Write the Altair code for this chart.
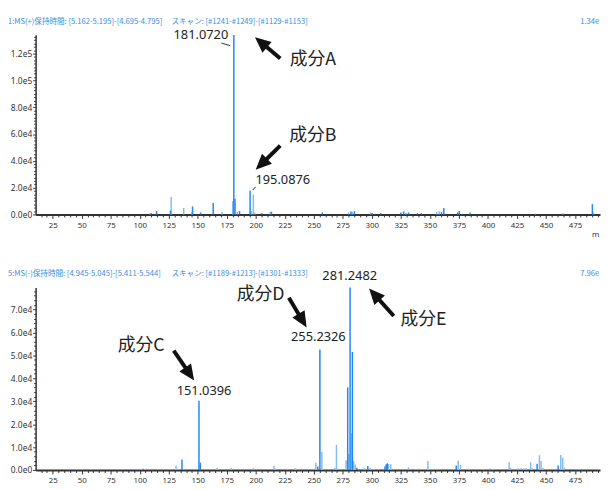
import altair as alt
import pandas as pd

# ---------------- data ----------------
X_DOMAIN = [10.3, 496.6]

# MS(+) spectrum (top)
top_mz = [108.6, 109.7, 114.5, 126.5, 127.1, 137.9, 144.9, 145.5, 152.4, 163.3, 171.0,
          180.1, 181.072, 182.1, 184.1, 186.0, 195.0876, 196.1, 197.9, 199.1, 205.0,
          212.5, 213.5, 257.3, 280.0, 282.0, 283.2, 285.0, 299.0, 300.2, 307.6,
          325.0, 327.4, 329.4, 331.6, 339.3, 342.7, 355.8, 358.0, 360.0, 362.0,
          373.9, 375.3, 384.6, 441.0, 464.4, 490.0, 491.0]
top_int = [800, 1000, 2500, 2900, 13000, 4800, 2000, 6000, 1500, 8600, 2000,
           10000, 134000, 11700, 2000, 2500, 17800, 2500, 14900, 1500, 1000,
           2000, 2000, 1500, 1500, 2200, 2000, 2500, 1500, 1000, 1000,
           1500, 2300, 1200, 1500, 1000, 1000, 2000, 2400, 2000, 4800,
           1500, 2500, 1500, 600, 1000, 7700, 1500]
top_grp = ["L", "D", "D", "D", "L", "L", "L", "D", "D", "D", "L",
           "L", "D", "D", "L", "D", "D", "L", "L", "L", "D",
           "L", "D", "D", "L", "D", "L", "D", "L", "D", "D",
           "D", "D", "L", "D", "D", "D", "L", "L", "D", "D",
           "D", "D", "D", "L", "L", "D", "L"]

# MS(-) spectrum (bottom)
bot_mz = [101.5, 103.0, 104.4, 131.3, 136.4, 151.0396, 152.2, 166.7, 178.8, 197.9,
          215.7, 217.0, 227.6, 233.8, 236.0, 251.7, 253.4, 255.2326, 256.9, 268.1,
          269.5, 277.8, 279.2, 280.2, 281.2482, 282.25, 283.26, 284.3, 285.7, 287.0,
          293.6, 296.5, 298.5, 301.8, 311.3, 312.4, 313.3, 314.4, 316.3, 331.6,
          340.4, 348.3, 356.5, 372.7, 374.4, 376.4, 383.5, 396.2, 401.9, 404.7,
          418.3, 419.5, 426.0, 428.5, 431.0, 433.0, 436.8, 438.0, 442.4, 444.4,
          445.8, 447.5, 460.5, 462.8, 464.5, 466.0, 478.4, 495.0]
bot_int = [500, 600, 500, 2000, 4600, 30200, 3200, 1000, 1000, 800,
           1900, 600, 600, 800, 400, 3200, 1500, 52500, 8000, 1000,
           10900, 4300, 36000, 7000, 79600, 16000, 51500, 4000, 2400, 1000,
           1000, 1700, 1000, 400, 1500, 2500, 2900, 2600, 2500, 1200,
           500, 3900, 500, 2000, 4000, 2200, 500, 500, 800, 500,
           3400, 1000, 800, 800, 700, 800, 3400, 1000, 2700, 6500,
           3900, 1000, 2000, 6500, 5300, 1000, 400, 400]
bot_grp = ["L", "D", "L", "L", "D", "D", "D", "L", "L", "L",
           "L", "L", "L", "L", "L", "L", "D", "D", "L", "L",
           "L", "L", "D", "L", "D", "L", "D", "L", "L", "D",
           "L", "D", "L", "L", "D", "D", "D", "L", "L", "L",
           "L", "L", "L", "D", "L", "L", "L", "L", "L", "L",
           "L", "L", "L", "L", "L", "L", "L", "L", "D", "L",
           "L", "L", "D", "L", "L", "L", "L", "L"]

# header texts
top_header = ["1:MS(+)保持時間: [5.162-5.195]-[4.695-4.795]", "スキャン: [#1241-#1249]-[#1129-#1153]", "1.34e5"]
bot_header = ["5:MS(-)保持時間: [4.945-5.045]-[5.411-5.544]", "スキャン: [#1189-#1213]-[#1301-#1333]", "7.96e4"]

# peak labels (text, x position in m/z, y position in intensity units)
top_peak_text = ["181.0720", "195.0876"]
top_peak_x = [152.7, 223.3]
top_peak_y = [133640, 25770]
bot_peak_text = ["281.2482", "255.2326", "151.0396"]
bot_peak_x = [280.9, 253.9, 155.4]
bot_peak_y = [84360, 57970, 34610]

# component labels
top_comp_text = ["成分A", "成分B"]
top_comp_x = [249.2, 249.2]
top_comp_y = [114860, 58170]
bot_comp_text = ["成分C", "成分D", "成分E"]
bot_comp_x = [101.3, 204.1, 344.4]
bot_comp_y = [54080, 76140, 65320]

# leader lines from labels to peaks (top panel)
lead_x = [170.4, 197.3]
lead_y = [127900, 18190]
lead_x2 = [178.0, 199.9]
lead_y2 = [125900, 20620]

# arrows: tail, shaft end, tip, head angle
top_arr_tx = [221.1, 221.1]
top_arr_ty = [116340, 51320]
top_arr_sx = [207.1, 207.2]
top_arr_sy = [126610, 39530]
top_arr_hx = [199.3, 199.9]
top_arr_hy = [132310, 33350]
top_arr_ang = [310.2, 225.7]
bot_arr_tx = [129.3, 228.5, 318.9]
bot_arr_ty = [52040, 75140, 67180]
bot_arr_sx = [141.1, 238.5, 304.5]
bot_arr_sy = [43340, 66610, 75300]
bot_arr_hx = [146.9, 243.8, 297.6]
bot_arr_hy = [39060, 62160, 79160]
bot_arr_ang = [145.4, 149.0, 317.9]

x_major = list(range(25, 476, 25))
x_minor = [v for v in range(15, 497, 5) if v % 25 != 0]

DARK = "#2188f2"
LIGHT = "#80bdf7"
BLUE_TXT = "#3b8ee0"
AX = "#333333"
NUM_FONT = "Noto Sans"
JP_FONT = "Noto Sans CJK JP"
HEAD = "M0,0L0.9,2L-0.9,2Z"
HDR_SIZE = 7.7

YLABEL = ("datum.value == 0 ? '0.0e0' : format(datum.value / pow(10, floor(log(datum.value) / LN10 + 1e-9)), '.1f')"
          " + 'e' + floor(log(datum.value) / LN10 + 1e-9)")


def panel(mz, inten, grp, ymax, ystep, yminstep, height, header,
          ptext, px, py, ctext, cx, cy, arr, leaders=None, show_mz=False):
    xs = alt.Scale(domain=X_DOMAIN, nice=False, zero=False)
    ys = alt.Scale(domain=[0, ymax], nice=False, zero=True)
    ymajor = list(range(0, ymax + 1, ystep))
    yminor = [v for v in range(yminstep, ymax, yminstep) if v % ystep != 0]

    peaks = pd.DataFrame({"mz": mz, "intensity": inten, "grp": grp})
    peaks = peaks.sort_values("grp", ascending=False)

    x_axis = alt.Axis(values=x_major, title=None, grid=False, orient="bottom",
                      tickSize=4, tickColor=AX, tickWidth=1, labelPadding=3,
                      domainColor=AX, domainWidth=2, labelFont=NUM_FONT,
                      labelFontSize=8, labelColor=AX, format="d", labelFlush=False)
    y_axis = alt.Axis(values=ymajor, title=None, grid=False, orient="left",
                      tickSize=3, tickColor=AX, tickWidth=1, labelPadding=1,
                      domainColor=AX, domainWidth=1.5, labelFont=NUM_FONT,
                      labelFontSize=8.5, labelColor=AX, labelExpr=YLABEL)
    x_axis_minor = alt.Axis(values=x_minor, title=None, grid=False, orient="bottom",
                            labels=False, domain=False, tickSize=2.5, tickColor=AX, tickWidth=1)
    y_axis_minor = alt.Axis(values=yminor, title=None, grid=False, orient="left",
                            labels=False, domain=False, tickSize=2, tickColor=AX, tickWidth=1)

    bars = alt.Chart(peaks).mark_rule(strokeWidth=1.5).encode(
        x=alt.X("mz:Q", scale=xs, axis=x_axis),
        y=alt.Y("intensity:Q", scale=ys, axis=y_axis),
        y2=alt.datum(0),
        color=alt.Color("grp:N", scale=alt.Scale(domain=["D", "L"], range=[DARK, LIGHT]), legend=None),
    )
    minor = alt.Chart(peaks).mark_point(opacity=0).encode(
        x=alt.X("mz:Q", scale=xs, axis=x_axis_minor),
        y=alt.Y("intensity:Q", scale=ys, axis=y_axis_minor),
    )

    pl = alt.Chart(pd.DataFrame({"t": ptext, "x": px, "y": py})).mark_text(
        font=NUM_FONT, fontSize=13, color="#222222", baseline="middle", align="center"
    ).encode(x=alt.X("x:Q", scale=xs, axis=None), y=alt.Y("y:Q", scale=ys, axis=None), text="t:N")
    cl = alt.Chart(pd.DataFrame({"t": ctext, "x": cx, "y": cy})).mark_text(
        font=JP_FONT, fontSize=18, color="#222222", baseline="middle", align="center"
    ).encode(x=alt.X("x:Q", scale=xs, axis=None), y=alt.Y("y:Q", scale=ys, axis=None), text="t:N")

    tx, ty, sx, sy, hx, hy, ang = arr
    adf = pd.DataFrame({"tx": tx, "ty": ty, "sx": sx, "sy": sy, "hx": hx, "hy": hy, "ang": ang})
    shaft = alt.Chart(adf).mark_rule(strokeWidth=4, color="#111111", strokeCap="butt").encode(
        x=alt.X("tx:Q", scale=xs, axis=None), y=alt.Y("ty:Q", scale=ys, axis=None),
        x2="sx:Q", y2="sy:Q")
    head = alt.Chart(adf).mark_point(shape=HEAD, filled=True, size=256, color="#111111",
                                     opacity=1, strokeWidth=0).encode(
        x=alt.X("hx:Q", scale=xs, axis=None), y=alt.Y("hy:Q", scale=ys, axis=None),
        angle=alt.Angle("ang:Q", scale=None))

    layers = [bars, minor, shaft, head, pl, cl]

    if leaders is not None:
        lx, ly, lx2, ly2 = leaders
        ldf = pd.DataFrame({"x": lx, "y": ly, "x2": lx2, "y2": ly2})
        layers.append(alt.Chart(ldf).mark_rule(strokeWidth=1, color="#333333").encode(
            x=alt.X("x:Q", scale=xs, axis=None), y=alt.Y("y:Q", scale=ys, axis=None),
            x2="x2:Q", y2="y2:Q"))

    hdf = pd.DataFrame({"t": header})
    h1 = alt.Chart(hdf.iloc[[0]]).mark_text(font=JP_FONT, fontSize=HDR_SIZE, color=BLUE_TXT,
                                           align="left", baseline="middle").encode(
        x=alt.value(-28), y=alt.value(-13.5), text="t:N")
    h2 = alt.Chart(hdf.iloc[[1]]).mark_text(font=JP_FONT, fontSize=HDR_SIZE, color=BLUE_TXT,
                                           align="left", baseline="middle").encode(
        x=alt.value(137.6), y=alt.value(-13.5), text="t:N")
    h3 = alt.Chart(hdf.iloc[[2]]).mark_text(font=JP_FONT, fontSize=HDR_SIZE, color=BLUE_TXT,
                                           align="left", baseline="middle", limit=20,
                                           ellipsis="\u200b").encode(
        x=alt.value(552), y=alt.value(-13.5), text="t:N")
    layers += [h1, h2, h3]

    if show_mz:
        mdf = pd.DataFrame({"t": ["m/z"]})
        layers.append(alt.Chart(mdf).mark_text(font=NUM_FONT, fontSize=8, color=AX,
                                               align="left", baseline="middle", limit=8,
                                               ellipsis="\u200b").encode(
            x=alt.value(564), y=alt.value(height + 21), text="t:N"))

    return alt.layer(*layers).resolve_axis(x="independent", y="independent").properties(
        width=572, height=height)


top = panel(top_mz, top_int, top_grp, 134000, 20000, 2500, 182, top_header,
            top_peak_text, top_peak_x, top_peak_y, top_comp_text, top_comp_x, top_comp_y,
            (top_arr_tx, top_arr_ty, top_arr_sx, top_arr_sy, top_arr_hx, top_arr_hy, top_arr_ang),
            leaders=(lead_x, lead_y, lead_x2, lead_y2), show_mz=True)
bottom = panel(bot_mz, bot_int, bot_grp, 79600, 10000, 2000, 185, bot_header,
               bot_peak_text, bot_peak_x, bot_peak_y, bot_comp_text, bot_comp_x, bot_comp_y,
               (bot_arr_tx, bot_arr_ty, bot_arr_sx, bot_arr_sy, bot_arr_hx, bot_arr_hy, bot_arr_ang))

chart = alt.vconcat(top, bottom, spacing=31).configure_view(stroke=None).properties(
    padding={"left": 0, "top": 6, "right": 0, "bottom": 0}, background="white")

chart.save("out.html", embed_options={"renderer": "svg", "actions": False})
